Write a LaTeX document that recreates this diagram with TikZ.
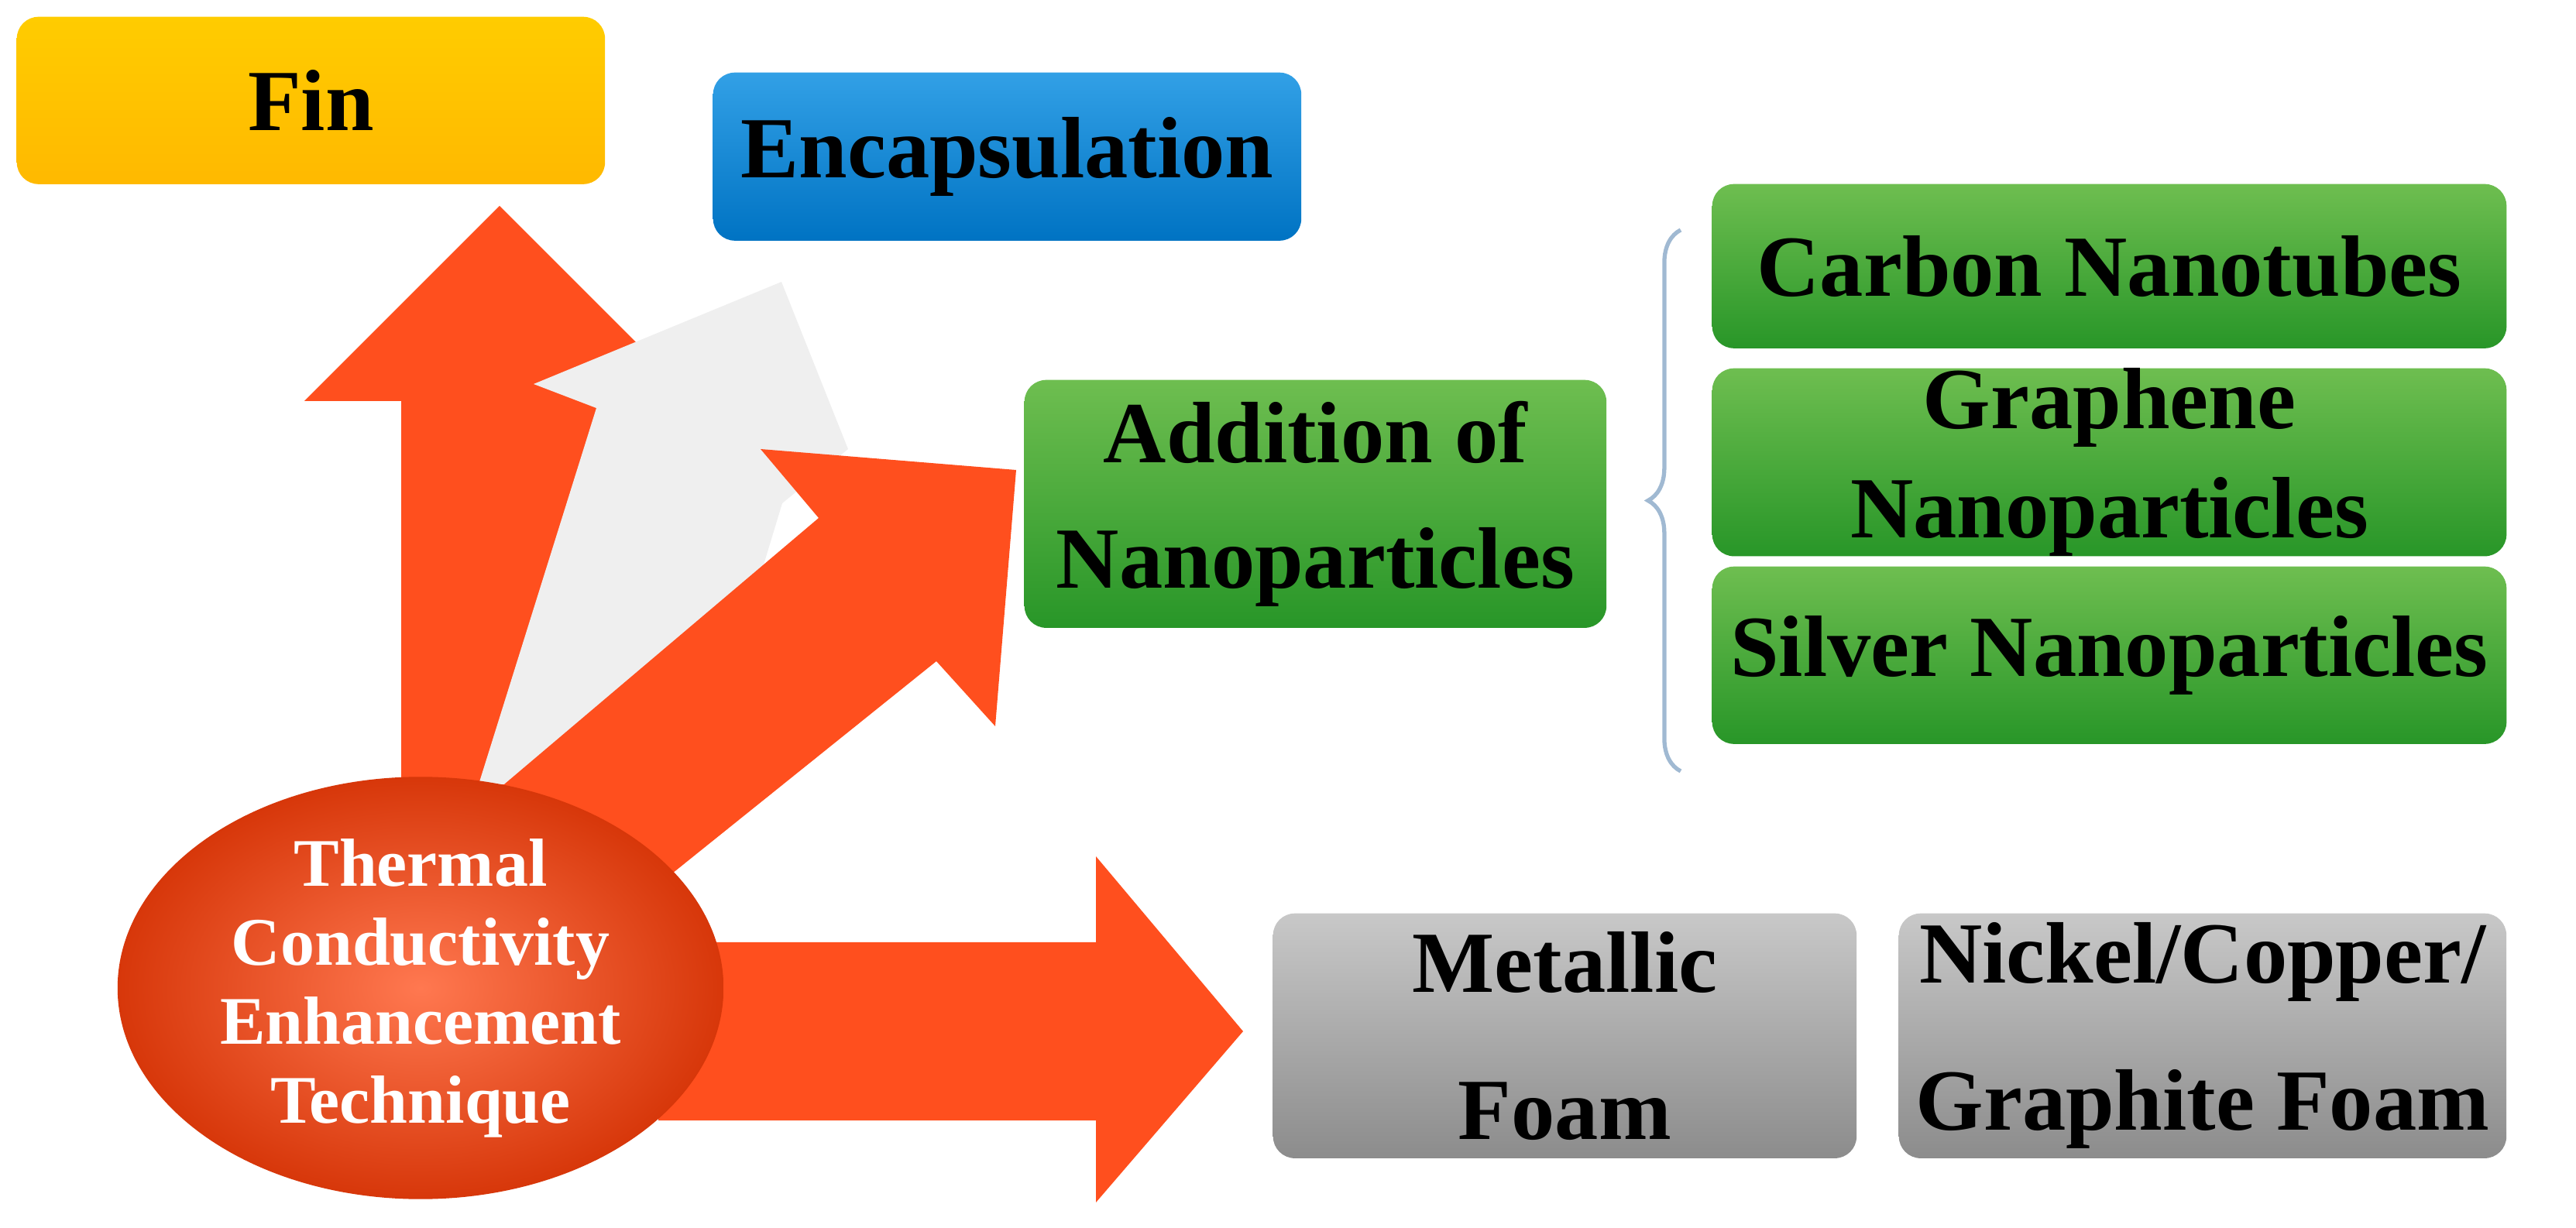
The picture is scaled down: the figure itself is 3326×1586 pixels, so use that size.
\documentclass[tikz,border=0pt]{standalone}
\usepackage{fontspec}
\setmainfont{Liberation Serif}
\usetikzlibrary{shapes.geometric,decorations.pathreplacing}
\definecolor{arr}{HTML}{FF4F1E}
\definecolor{grayarr}{HTML}{EFEFEF}
\begin{document}
\begin{tikzpicture}[x=0.01cm,y=-0.01cm,
  box/.style={rounded corners=8pt,draw=none,text=black,font=\fontsize{32}{40}\selectfont\bfseries,align=center,inner sep=0pt,anchor=north west},
  greenbox/.style={box,top color={rgb,255:red,110;green,190;blue,80},bottom color={rgb,255:red,40;green,150;blue,40}},
  graybox/.style={box,top color={rgb,255:red,200;green,200;blue,200},bottom color={rgb,255:red,140;green,140;blue,140}},
]
\useasboundingbox (0,0) rectangle (3326,1586);
% arrows
\fill[arr] (645,266) -- (393,518) -- (518,518) -- (518,1100) -- (772,1100) -- (772,518) -- (897,518) -- cycle;
\fill[grayarr] (1009,364) -- (689,496) -- (770,527) -- (618,1013) -- (900,1013) -- (1010,650) -- (1095,580) -- cycle;
\fill[arr] (1312,607) -- (982,580) -- (1057,669) -- (651,1013) -- (868,1128) -- (1209,854) -- (1285,938) -- cycle;
\fill[arr] (1605,1332) -- (1415,1106) -- (1415,1217) -- (850,1217) -- (850,1447) -- (1415,1447) -- (1415,1553) -- cycle;
% ellipse
\node[ellipse,minimum width=7.82cm,minimum height=5.36cm,inner sep=0pt,
  shading=radial,inner color={rgb,255:red,255;green,120;blue,80},outer color={rgb,255:red,215;green,55;blue,10},
  text=white,font=\fontsize{25}{29}\selectfont\bfseries,align=center]
  (tc) at (543,1276) {Thermal\\Conductivity\\Enhancement\\Technique};
% boxes
\node[box,top color=yellow!60!orange,bottom color={rgb,255:red,255;green,185;blue,0},minimum width=7.59cm,minimum height=2.16cm] (fin) at (21,21) {Fin};
\node[box,top color={rgb,255:red,50;green,160;blue,230},bottom color={rgb,255:red,0;green,115;blue,195},minimum width=7.59cm,minimum height=2.17cm] (enc) at (920,93) {Encapsulation};
\node[greenbox,minimum width=7.51cm,minimum height=3.2cm] (add) at (1322,490) {Addition of\\[6pt]Nanoparticles};
\node[greenbox,minimum width=10.25cm,minimum height=2.12cm] (cnt) at (2210,237) {Carbon Nanotubes};
\node[greenbox,minimum width=10.25cm,minimum height=2.29cm] (gra) at (2210,475) {Graphene\\Nanoparticles};
\node[greenbox,minimum width=10.25cm,minimum height=2.29cm] (sil) at (2210,731) {Silver Nanoparticles};
\node[graybox,minimum width=7.53cm,minimum height=3.16cm] (met) at (1643,1179) {Metallic\\[14pt]Foam};
\node[graybox,minimum width=7.84cm,minimum height=3.16cm] (nic) at (2451,1179) {Nickel/Copper/\\[14pt]Graphite Foam};
% brace
\coordinate (b1) at (2170,297);
\coordinate (b2) at (2170,996);
\draw[color={rgb,255:red,160;green,185;blue,210},line width=1.5pt,decorate,decoration={brace,amplitude=12pt}] (b2) -- (b1);
\end{tikzpicture}
\end{document}
